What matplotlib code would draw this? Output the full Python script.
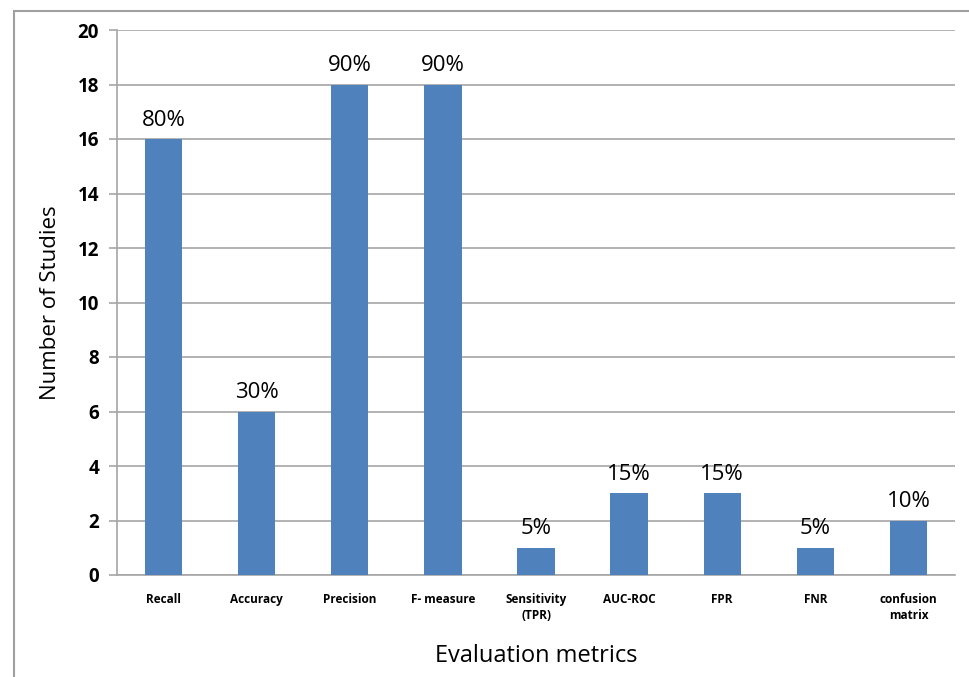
import matplotlib
matplotlib.use('Agg')
import matplotlib.pyplot as plt
from matplotlib.patches import Rectangle
import numpy as np

METRICAS = ['Recall', 'Accuracy', 'Precision', 'F- measure', 'Sensitivity\n(TPR)',
            'AUC-ROC', 'FPR', 'FNR', 'confusion\nmatrix']
ESTUDOS = [16, 6, 18, 18, 1, 3, 3, 1, 2]
PERCENT = ['80%', '30%', '90%', '90%', '5%', '15%', '15%', '5%', '10%']
YTICKS = list(range(0, 21, 2))

COR_BARRA = '#4F81BD'
COR_LINHA = '#A6A6A6'
FONTE = ['Open Sans', 'DejaVu Sans']

fig = plt.figure(figsize=(9.69, 6.77), dpi=100)
# moldura externa do grafico
fig.patches.append(Rectangle((14/969, -0.1), 1.2, 1 - 11/677 + 0.1,
                             transform=fig.transFigure, fill=False,
                             edgecolor='#A0A0A0', linewidth=1.5))

ax = fig.add_axes([117/969, 1 - 575/677, 838/969, 545/677])
x = np.arange(len(METRICAS))
ax.bar(x, ESTUDOS, 0.4, color=COR_BARRA, zorder=3)

for xi, v, p in zip(x, ESTUDOS, PERCENT):
    ax.annotate(p, (xi, v), textcoords='offset points', xytext=(0, 6),
                ha='center', va='bottom', fontsize=16, family=FONTE)

ax.set_xlim(-0.5, len(METRICAS) - 0.5)
ax.set_ylim(0, 20)
ax.set_yticks(YTICKS)
ax.set_yticklabels([str(t) for t in YTICKS], fontsize=13.5, fontweight='bold', family=FONTE)
ax.set_xticks(x)
ax.set_xticklabels(METRICAS, fontsize=8.5, fontweight='bold', family=FONTE, linespacing=1.3)
ax.tick_params(axis='x', length=0, pad=13)
ax.tick_params(axis='y', length=6, color=COR_LINHA, width=1.2, pad=7)
ax.grid(axis='y', color=COR_LINHA, linewidth=1.2, zorder=0)

for s in ['top', 'right']:
    ax.spines[s].set_visible(False)
for s in ['left', 'bottom']:
    ax.spines[s].set_color(COR_LINHA)
    ax.spines[s].set_linewidth(1.2)

ax.set_ylabel('Number of Studies', fontsize=16, family=FONTE, labelpad=12)
ax.set_xlabel('Evaluation metrics', fontsize=17, family=FONTE, labelpad=16)

plt.savefig('out.png', dpi=100)
plt.close()
